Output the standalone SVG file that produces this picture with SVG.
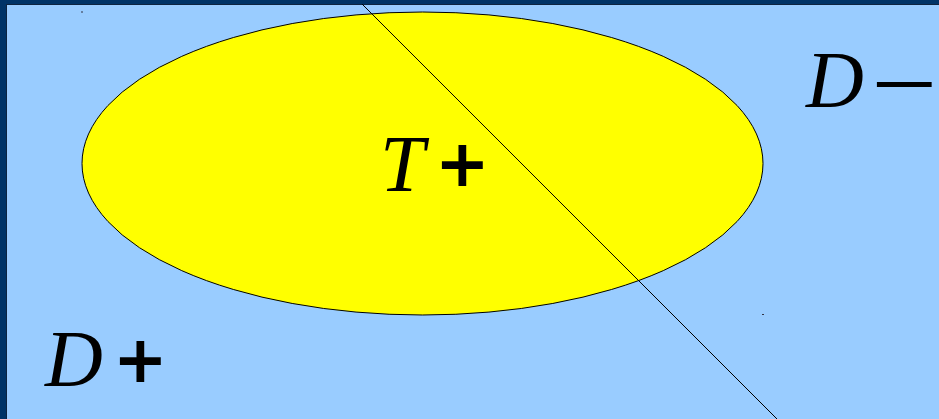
<svg xmlns="http://www.w3.org/2000/svg" width="939" height="419" viewBox="0 0 939 419">
  <style>
    .var { font-family: "Liberation Serif", "Times New Roman", serif; font-style: italic; font-size: 80px; fill: #000; }
    .sign { font-family: "Liberation Sans", Arial, sans-serif; font-size: 80px; fill: #000; stroke: #000; stroke-width: 2; }
    .minus { font-family: "Liberation Serif", "Times New Roman", serif; font-size: 98px; fill: #000; }
  </style>
  <g id="background">
    <rect x="0" y="0" width="939" height="419" fill="#003366"/>
    <rect x="6" y="4" width="933" height="415" fill="#0d2440"/>
    <rect x="7" y="5" width="932" height="414" fill="#99ccff"/>
  </g>
  <g id="set-T">
    <ellipse cx="422.5" cy="163.5" rx="340.5" ry="151.5" fill="#ffff00" stroke="#000" stroke-width="1"/>
    <rect x="81.5" y="11" width="1" height="2" fill="#334"/>
    <rect x="762" y="314" width="2" height="1" fill="#334"/>
  </g>
  <g id="connectors">
    <line x1="362" y1="4" x2="777" y2="419" stroke="#000" stroke-width="1"/>
  </g>
  <g id="label-T-plus">
    <text class="var" x="380" y="191">T</text>
    <text class="sign" x="439" y="192">+</text>
  </g>
  <g id="label-D-minus">
    <text class="var" x="806" y="107">D</text>
    <text class="minus" x="0" y="117" transform="translate(871 0) scale(1.2 1)">−</text>
  </g>
  <g id="label-D-plus">
    <text class="var" x="45" y="386">D</text>
    <text class="sign" x="117" y="388">+</text>
  </g>
</svg>
